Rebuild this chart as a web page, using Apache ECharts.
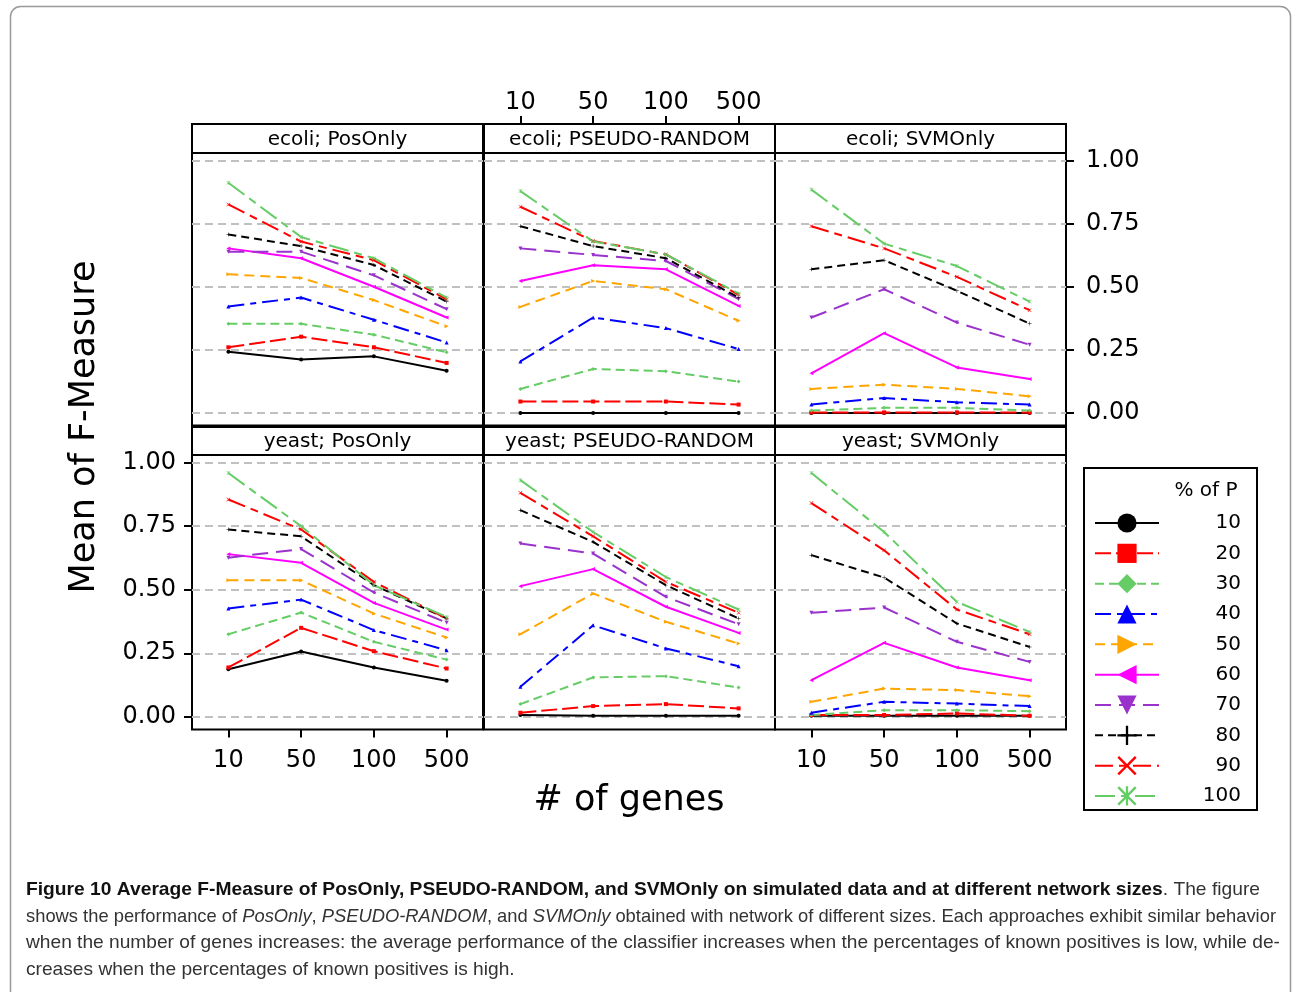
<!DOCTYPE html>
<html>
<head>
<meta charset="utf-8">
<title>Average F-Measure</title>
<script src="https://cdn.jsdelivr.net/npm/echarts@6/dist/echarts.min.js"></script>
<style>
html, body { margin: 0; padding: 0; background: #fff; }
#chart { width: 1294px; height: 992px; }
</style>
</head>
<body>
<div id="chart"></div>
<script>
var genes = ['10', '50', '100', '500'];
var percents = ['10', '20', '30', '40', '50', '60', '70', '80', '90', '100'];
var yTicks = [0, 0.25, 0.5, 0.75, 1];

// one row per % of P (10 .. 100), one column per # of genes (10, 50, 100, 500)
var ecoliPosOnly = [
    [0.242, 0.212, 0.224, 0.167],
    [0.260, 0.302, 0.260, 0.198],
    [0.353, 0.353, 0.310, 0.240],
    [0.422, 0.457, 0.369, 0.279],
    [0.549, 0.535, 0.447, 0.343],
    [0.652, 0.613, 0.500, 0.378],
    [0.639, 0.639, 0.545, 0.411],
    [0.707, 0.661, 0.586, 0.441],
    [0.826, 0.679, 0.605, 0.450],
    [0.912, 0.697, 0.613, 0.457]
];
var ecoliPseudoRandom = [
    [0.000, 0.000, 0.000, 0.000],
    [0.045, 0.045, 0.045, 0.033],
    [0.095, 0.174, 0.165, 0.124],
    [0.204, 0.378, 0.336, 0.253],
    [0.420, 0.523, 0.490, 0.365],
    [0.523, 0.585, 0.569, 0.424],
    [0.652, 0.626, 0.602, 0.451],
    [0.740, 0.661, 0.613, 0.457],
    [0.817, 0.681, 0.628, 0.468],
    [0.879, 0.679, 0.628, 0.473]
];
var ecoliSvmOnly = [
    [0.000, 0.000, 0.000, 0.000],
    [0.002, 0.002, 0.002, 0.002],
    [0.009, 0.020, 0.020, 0.009],
    [0.033, 0.059, 0.042, 0.033],
    [0.095, 0.112, 0.095, 0.066],
    [0.157, 0.316, 0.180, 0.134],
    [0.378, 0.490, 0.358, 0.270],
    [0.569, 0.605, 0.484, 0.354],
    [0.740, 0.652, 0.539, 0.407],
    [0.885, 0.671, 0.582, 0.441]
];
var yeastPosOnly = [
    [0.187, 0.257, 0.194, 0.142],
    [0.194, 0.350, 0.258, 0.190],
    [0.325, 0.410, 0.295, 0.225],
    [0.426, 0.461, 0.341, 0.262],
    [0.537, 0.537, 0.406, 0.312],
    [0.640, 0.606, 0.448, 0.343],
    [0.626, 0.660, 0.489, 0.370],
    [0.737, 0.710, 0.518, 0.387],
    [0.855, 0.737, 0.531, 0.387],
    [0.959, 0.750, 0.518, 0.393]
];
var yeastPseudoRandom = [
    [0.007, 0.004, 0.004, 0.004],
    [0.016, 0.042, 0.050, 0.033],
    [0.050, 0.155, 0.160, 0.115],
    [0.118, 0.360, 0.269, 0.199],
    [0.325, 0.485, 0.374, 0.288],
    [0.514, 0.581, 0.433, 0.330],
    [0.682, 0.642, 0.472, 0.364],
    [0.813, 0.688, 0.518, 0.387],
    [0.881, 0.710, 0.531, 0.409],
    [0.931, 0.727, 0.550, 0.422]
];
var yeastSvmOnly = [
    [0.004, 0.004, 0.004, 0.004],
    [0.007, 0.007, 0.013, 0.004],
    [0.007, 0.026, 0.026, 0.022],
    [0.016, 0.059, 0.052, 0.042],
    [0.059, 0.111, 0.105, 0.081],
    [0.144, 0.291, 0.194, 0.144],
    [0.409, 0.430, 0.295, 0.216],
    [0.636, 0.548, 0.367, 0.275],
    [0.841, 0.655, 0.422, 0.325],
    [0.959, 0.727, 0.452, 0.334]
];

var panelTitles = ['ecoli; PosOnly', 'ecoli; PSEUDO-RANDOM', 'ecoli; SVMOnly',
    'yeast; PosOnly', 'yeast; PSEUDO-RANDOM', 'yeast; SVMOnly'];
var panelData = [ecoliPosOnly, ecoliPseudoRandom, ecoliSvmOnly,
    yeastPosOnly, yeastPseudoRandom, yeastSvmOnly];

var captionLines = [
    [['b', 'Figure 10 Average F-Measure of PosOnly, PSEUDO-RANDOM, and SVMOnly on simulated data and at different network sizes'], ['n', '. The figure']],
    [['n', 'shows the performance of '], ['i', 'PosOnly'], ['n', ', '], ['i', 'PSEUDO-RANDOM'], ['n', ', and '], ['i', 'SVMOnly'], ['n', ' obtained with network of different sizes. Each approaches exhibit similar behavior']],
    [['n', 'when the number of genes increases: the average performance of the classifier increases when the percentages of known positives is low, while de-']],
    [['n', 'creases when the percentages of known positives is high.']]
];

//styles
var lineColors = ['#000000', '#ff0000', '#66cc66', '#0000ff', '#ffa500', '#ff00ff', '#9933cc', '#000000', '#ff0000', '#66cc66'];
var lineDashes = ['solid', [16, 5], [9, 5], [16, 6, 6, 6], [10, 6], 'solid', [16, 8], [8, 5], [18, 6, 8, 6], [20, 6, 8, 6]];
var symbols = [
    'circle',
    'rect',
    'diamond',
    'triangle',
    'path://M0,0L10,5L0,10Z',
    'path://M10,0L0,5L10,10Z',
    'path://M0,0L10,0L5,10Z',
    'path://M4.4,0H5.6V4.4H10V5.6H5.6V10H4.4V5.6H0V4.4H4.4Z',
    'path://M0,0.9L0.9,0L5,4.1L9.1,0L10,0.9L5.9,5L10,9.1L9.1,10L5,5.9L0.9,10L0,9.1L4.1,5Z',
    'path://M0,0.9L0.9,0L5,4.1L9.1,0L10,0.9L5.9,5L10,9.1L9.1,10L5,5.9L0.9,10L0,9.1L4.1,5ZM4.4,0H5.6V10H4.4Z'
];

var font = 'DejaVu Sans';
var captionFont = '"Liberation Sans Narrow", "Liberation Sans", Arial, sans-serif';

var colLeft = [192, 484, 775];
var colWidth = 291;
var rowTop = [153, 455];
var rowHeight = [272.5, 274.5];
var stripTop = [124, 427];

var grids = [], xAxes = [], yAxes = [], series = [], graphics = [];

for (var i = 0; i < 6; i++) {
    var row = Math.floor(i / 3);
    var col = i % 3;
    var showBottom = row === 1 && col !== 1;
    var showTop = row === 0 && col === 1;
    var showLeft = row === 1 && col === 0;
    var showRight = row === 0 && col === 2;

    grids.push({
        left: colLeft[col],
        top: rowTop[row],
        width: colWidth,
        height: rowHeight[row],
        show: true,
        backgroundColor: 'transparent',
        borderColor: '#000',
        borderWidth: 2,
        outerBoundsMode: 'none'
    });

    xAxes.push({
        type: 'category',
        gridIndex: i,
        data: genes,
        boundaryGap: true,
        position: showTop ? 'top' : 'bottom',
        offset: showTop ? rowTop[0] - stripTop[0] : 0,
        axisLine: { show: false, onZero: false },
        axisTick: { show: showTop || showBottom, alignWithLabel: true, length: 8, lineStyle: { color: '#000', width: 2 } },
        axisLabel: { show: showTop || showBottom, fontSize: 24, fontFamily: font, color: '#000', margin: showTop ? 9 : 19 },
        splitLine: { show: false }
    });

    yAxes.push({
        type: 'value',
        gridIndex: i,
        min: -0.05,
        max: 1.03,
        position: showRight ? 'right' : 'left',
        axisLine: { show: false, onZero: false },
        axisTick: { show: showLeft || showRight, customValues: yTicks, length: 8, lineStyle: { color: '#000', width: 2 } },
        axisLabel: {
            show: showLeft || showRight,
            customValues: yTicks,
            fontSize: 24,
            fontFamily: font,
            color: '#000',
            margin: showRight ? 20 : 16,
            formatter: function (v) { return v.toFixed(2); }
        },
        splitLine: { show: true, lineStyle: { color: '#c0c0c0', width: 2, type: [8, 5] } }
    });

    for (var j = 0; j < percents.length; j++) {
        series.push({
            type: 'line',
            name: percents[j],
            xAxisIndex: i,
            yAxisIndex: i,
            data: panelData[i][j],
            symbol: symbols[j],
            symbolSize: 4,
            showAllSymbol: true,
            lineStyle: { color: lineColors[j], width: 2, type: lineDashes[j] },
            itemStyle: { color: lineColors[j] },
            emphasis: { disabled: true },
            z: 3
        });
    }

    //strip on top of panel
    graphics.push({
        type: 'rect',
        shape: { x: colLeft[col], y: stripTop[row], width: colWidth, height: rowTop[row] - stripTop[row] },
        style: { fill: '#fff', stroke: '#000', lineWidth: 2 },
        silent: true,
        z: 10
    });
    graphics.push({
        type: 'text',
        x: colLeft[col] + colWidth / 2,
        y: (stripTop[row] + rowTop[row]) / 2 + 1,
        style: { text: panelTitles[i], fontSize: 20, fontFamily: font, fill: '#000', align: 'center', verticalAlign: 'middle' },
        silent: true,
        z: 11
    });
}

//frame, legend box and titles
graphics.push({
    type: 'rect',
    shape: { x: 10.5, y: 6.5, width: 1280, height: 1020, r: 10 },
    style: { fill: 'none', stroke: '#999', lineWidth: 1.5 },
    silent: true,
    z: -1
});
graphics.push({
    type: 'rect',
    shape: { x: 1084, y: 468, width: 173, height: 342 },
    style: { fill: 'none', stroke: '#000', lineWidth: 2 },
    silent: true
});
graphics.push({
    type: 'text',
    x: 1206, y: 491,
    style: { text: '% of P', fontSize: 20, fontFamily: font, fill: '#000', align: 'center', verticalAlign: 'middle' },
    silent: true
});
graphics.push({
    type: 'text',
    x: 85, y: 427,
    rotation: Math.PI / 2,
    style: { text: 'Mean of F-Measure', fontSize: 35, fontFamily: font, fill: '#000', align: 'center', verticalAlign: 'middle' },
    silent: true
});
graphics.push({
    type: 'text',
    x: 629, y: 801,
    style: { text: '# of genes', fontSize: 35, fontFamily: font, fill: '#000', align: 'center', verticalAlign: 'middle' },
    silent: true
});

//caption, stretched to the widths of the reference lines
var measureCtx = document.createElement('canvas').getContext('2d');
var captionRich = {
    b: { fontSize: 19, fontFamily: captionFont, fontWeight: 'bold', fill: '#111' },
    n: { fontSize: 19, fontFamily: captionFont, fill: '#333' },
    i: { fontSize: 19, fontFamily: captionFont, fontStyle: 'italic', fill: '#333' }
};
function captionFontOf(kind) {
    return (kind === 'i' ? 'italic ' : '') + (kind === 'b' ? 'bold ' : '') + '19px ' + captionFont;
}
var captionTargets = [1234, 1250, 1254];
var captionY = [890, 917, 943, 970];
var lastScale = 1;
captionLines.forEach(function (parts, k) {
    var w = 0;
    var text = '';
    parts.forEach(function (p) {
        measureCtx.font = captionFontOf(p[0]);
        w += measureCtx.measureText(p[1]).width;
        text += '{' + p[0] + '|' + p[1] + '}';
    });
    var scale = captionTargets[k] ? captionTargets[k] / w : lastScale;
    lastScale = scale;
    graphics.push({
        type: 'text',
        x: 26, y: captionY[k],
        scaleX: scale,
        style: { text: text, rich: captionRich, align: 'left', verticalAlign: 'middle' },
        silent: true
    });
});

var chart = echarts.init(document.getElementById('chart'));
chart.setOption({
    animation: false,
    backgroundColor: '#fff',
    grid: grids,
    xAxis: xAxes,
    yAxis: yAxes,
    legend: {
        orient: 'vertical',
        left: 1094,
        top: 513,
        padding: 0,
        itemWidth: 64,
        itemHeight: 24,
        itemGap: 10.33,
        selectedMode: false,
        data: percents,
        formatter: '{n|{name}}',
        textStyle: {
            color: '#000',
            rich: { n: { width: 77, align: 'right', fontSize: 20, fontFamily: font, color: '#000', lineHeight: 24 } }
        }
    },
    series: series,
    graphic: graphics
});
</script>
</body>
</html>
